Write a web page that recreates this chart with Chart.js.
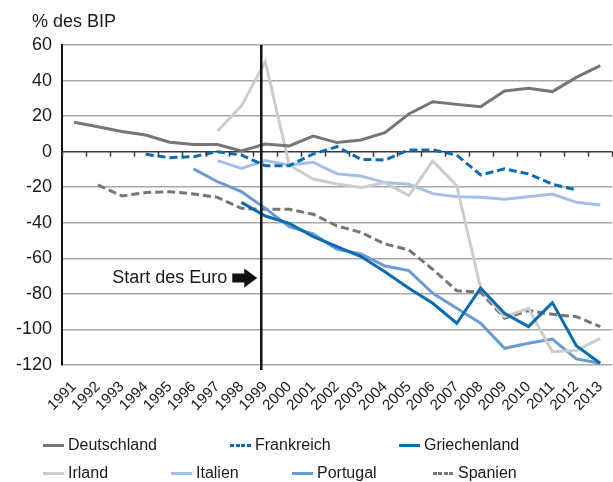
<!DOCTYPE html>
<html lang="de">
<head>
<meta charset="utf-8">
<title>Leistungsbilanz in % des BIP</title>
<script src="https://cdn.jsdelivr.net/npm/chart.js@4.4.1/dist/chart.umd.min.js"></script>
<style>
  html, body { margin: 0; padding: 0; background: #fff; overflow: hidden; }
  #wrap { position: relative; width: 613px; height: 482px; overflow: hidden; }
  #chartBox { position: absolute; left: 0; top: 0; width: 618px; height: 425px; }
  #legend { position: absolute; left: 0; top: 0; width: 613px; height: 482px; pointer-events: none;
            font: 16px "Liberation Sans", Arial, sans-serif; color: #1a1a1a; }
  .item { position: absolute; display: flex; align-items: center; white-space: nowrap; height: 20px; }
  .swatch { width: 21px; height: 3px; margin-right: 4px; }
</style>
</head>
<body>
<div id="wrap">
  <div id="chartBox"><canvas id="saldoChart"></canvas></div>
  <div id="legend"></div>
</div>
<script>
// Jahre 1991-2013
var years = ['1991', '1992', '1993', '1994', '1995', '1996', '1997', '1998', '1999', '2000', '2001', '2002',
             '2003', '2004', '2005', '2006', '2007', '2008', '2009', '2010', '2011', '2012', '2013'];

var deutschland = [16.5, 14, 11.3, 9.4, 5.3, 4.1, 4.0, 0.4, 4.3, 3.2, 8.8, 5.1, 6.6, 10.7, 21.2, 28.1, 26.6, 25.3, 34.1, 35.6, 33.8, 41.8, 48.4];
var frankreich = [null, null, null, -1.5, -3.4, -2.8, 0, -1.9, -7.9, -7.9, -1.3, 2.8, -4.3, -4.7, 1, 1, -1.9, -13.1, -9.7, -12.5, -18.3, -21.5, null];
var griechenland = [null, null, null, null, null, null, null, -28.5, -36.2, -40.3, -47.8, -53.4, -59, -67.5, -76.8, -85.3, -96.5, -76.8, -90.9, -98.4, -84.9, -109.1, -119];
var irland = [null, null, null, null, null, null, 11.6, 25.7, 50.6, -7.5, -15.4, -18.2, -20.2, -17.4, -24.7, -5.2, -19.2, -76.8, -92.8, -88.1, -112.5, -111.9, -105];
var italien = [null, null, null, null, null, null, -5, -9.4, -5, -7.5, -6, -12.5, -13.7, -17.4, -18.3, -23.6, -25.3, -25.7, -26.8, -25.3, -23.8, -28.5, -30];
var portugal = [null, null, null, null, null, -9.7, -16.9, -22.5, -31.9, -42.2, -46.3, -54.9, -57.5, -64.3, -66.9, -79.7, -88.1, -96.5, -110.6, -107.8, -105.4, -116.6, -119];
var spanien = [null, -18.7, -24.9, -23, -22.5, -23.8, -25.7, -31.9, -32.4, -32.4, -35.2, -41.8, -45.4, -51.9, -55.3, -66.2, -78.2, -79.1, -93.7, -89.4, -91.5, -92.8, -98.4];

var yTicks = [-120, -100, -80, -60, -40, -20, 0, 20, 40, 60];
var euroStart = '1999';

var FONT = '"Liberation Sans", Arial, sans-serif';
var TEXT = '#1a1a1a';

function series(label, data, color, dashed) {
    return {
        label: label,
        data: data,
        borderColor: color,
        backgroundColor: color,
        borderWidth: 3,
        borderDash: dashed ? [8, 4] : [],
        pointRadius: 0,
        tension: 0,
        fill: false,
        spanGaps: false
    };
}

var datasets = [
    series('Deutschland', deutschland, '#767676', false),
    series('Frankreich', frankreich, '#0b6cb3', true),
    series('Griechenland', griechenland, '#0b6cb0', false),
    series('Irland', irland, '#cdcdcd', false),
    series('Italien', italien, '#a3c0e8', false),
    series('Portugal', portugal, '#6a9bd6', false),
    series('Spanien', spanien, '#767676', true)
];

// Titel, Nulllinien-Striche und Euro-Markierung
var overlay = {
    id: 'overlay',
    afterDatasetsDraw: function(chart) {
        var c = chart.ctx, x = chart.scales.x, y = chart.scales.y, area = chart.chartArea;
        var step = x.getPixelForValue(1) - x.getPixelForValue(0);
        var y0 = y.getPixelForValue(0);
        c.save();

        // kleine Striche unter der Nulllinie
        c.strokeStyle = '#3c3c3c';
        c.lineWidth = 1.5;
        c.beginPath();
        for (var i = 0; i <= years.length; i++) {
            var tx = Math.round(x.getPixelForValue(i) - step / 2) + 0.5;
            c.moveTo(tx, y0);
            c.lineTo(tx, y0 + 5);
        }
        c.stroke();

        // senkrechte Linie: Start des Euro
        var ex = x.getPixelForValue(years.indexOf(euroStart)) - step * 0.17;
        c.strokeStyle = '#111';
        c.lineWidth = 2.5;
        c.beginPath();
        c.moveTo(ex, area.top);
        c.lineTo(ex, area.bottom + 5);
        c.stroke();

        // Beschriftung mit Pfeil
        var ay = y.getPixelForValue(-71);
        c.fillStyle = TEXT;
        c.font = '18px ' + FONT;
        c.textAlign = 'right';
        c.textBaseline = 'middle';
        c.fillText('Start des Euro', ex - 34, ay);
        c.fillStyle = '#111';
        c.beginPath();
        c.moveTo(ex - 29, ay - 4.5);
        c.lineTo(ex - 17, ay - 4.5);
        c.lineTo(ex - 17, ay - 9.5);
        c.lineTo(ex - 4, ay);
        c.lineTo(ex - 17, ay + 9.5);
        c.lineTo(ex - 17, ay + 4.5);
        c.lineTo(ex - 29, ay + 4.5);
        c.closePath();
        c.fill();

        // Achsentitel
        c.fillStyle = TEXT;
        c.textAlign = 'left';
        c.textBaseline = 'alphabetic';
        c.fillText('% des BIP', 32, 27);
        c.restore();
    }
};

var ctx = document.getElementById('saldoChart').getContext('2d');
var saldoChart = new Chart(ctx, {
    type: 'line',
    data: { labels: years, datasets: datasets },
    plugins: [overlay],
    options: {
        responsive: true,
        maintainAspectRatio: false,
        animation: false,
        layout: { padding: { top: 45, right: 2, left: 0, bottom: 0 } },
        plugins: {
            legend: { display: false },
            tooltip: { enabled: false }
        },
        scales: {
            x: {
                offset: true,
                grid: { display: false },
                border: { display: false },
                ticks: {
                    minRotation: 45,
                    maxRotation: 45,
                    autoSkip: false,
                    padding: 5,
                    color: TEXT,
                    font: { family: FONT, size: 15 }
                },
                afterFit: function(scale) { scale.height = 60; }
            },
            y: {
                min: yTicks[0],
                max: yTicks[yTicks.length - 1],
                afterBuildTicks: function(scale) {
                    scale.ticks = yTicks.map(function(v) { return { value: v }; });
                },
                grid: {
                    drawTicks: false,
                    lineWidth: 1.5,
                    color: function(context) {
                        return context.tick && context.tick.value === 0 ? '#3c3c3c' : '#a8a8a8';
                    }
                },
                border: { display: true, color: '#111', width: 2 },
                ticks: {
                    padding: 10,
                    color: TEXT,
                    font: { family: FONT, size: 18 }
                },
                afterFit: function(scale) { scale.width = 62; }
            }
        }
    }
});

// Legende in drei bzw. vier Spalten
var legendSpots = [
    [43, 445], [230, 445], [399, 445],
    [43, 473], [171, 473], [292, 473], [433, 473]
];
var legendBox = document.getElementById('legend');
datasets.forEach(function(ds, i) {
    var item = document.createElement('div');
    item.className = 'item';
    item.style.left = legendSpots[i][0] + 'px';
    item.style.top = (legendSpots[i][1] - 10) + 'px';
    var sw = document.createElement('span');
    sw.className = 'swatch';
    sw.style.background = ds.borderDash.length
        ? 'repeating-linear-gradient(to right, ' + ds.borderColor + ' 0 4px, transparent 4px 5.5px)'
        : ds.borderColor;
    var txt = document.createElement('span');
    txt.textContent = ds.label;
    item.appendChild(sw);
    item.appendChild(txt);
    legendBox.appendChild(item);
});
</script>
</body>
</html>
